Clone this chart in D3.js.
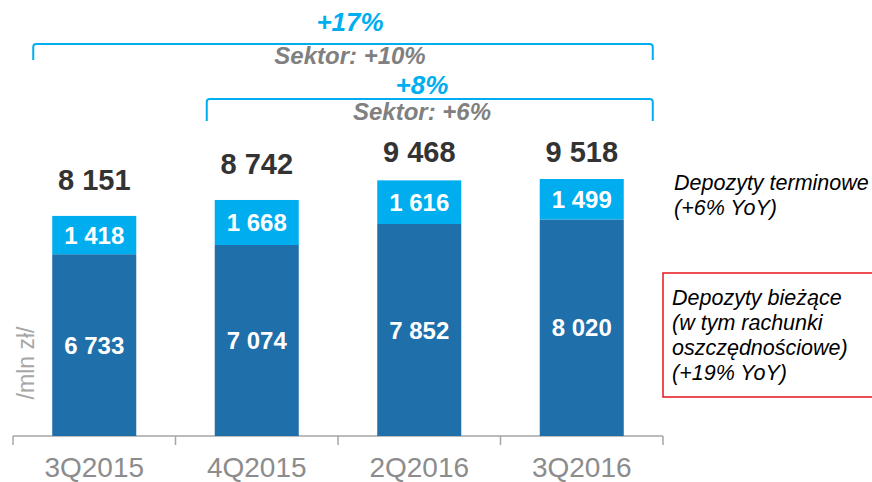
<!DOCTYPE html>
<html>
<head>
<meta charset="UTF-8">
<title>Depozyty</title>
<script src="https://cdn.jsdelivr.net/npm/d3@7"></script>
<style>
  body { margin: 0; background: #fff; }
  text { font-family: Arial, "Liberation Sans", sans-serif; }
</style>
</head>
<body>
<script>
var w = 872;
var h = 482;

// dane
var categories = ["3Q2015", "4Q2015", "2Q2016", "3Q2016"];
var biezace = [6733, 7074, 7852, 8020];
var terminowe = [1418, 1668, 1616, 1499];
var totals = [8151, 8742, 9468, 9518];
var bracketLabels = [
  {from: 0, to: 3, main: "+17%", sub: "Sektor: +10%"},
  {from: 1, to: 3, main: "+8%", sub: "Sektor: +6%"}
];
var legendTerm = ["Depozyty terminowe", "(+6% YoY)"];
var legendBiez = ["Depozyty bieżące", "(w tym rachunki", "oszczędnościowe)", "(+19% YoY)"];

var darkBlue = "#1f6fab";
var lightBlue = "#00aeef";

function fmt(v) {
  return d3.format(",")(v).replace(/,/g, " ");
}

var svg = d3.select("body")
  .append("svg")
  .attr("width", w)
  .attr("height", h);

var x = d3.scaleBand()
  .domain(categories)
  .range([13, 663])
  .paddingInner(0.483)
  .paddingOuter(0.2415);

var y = d3.scaleLinear()
  .domain([0, 10000])
  .range([436, 166]);

var data = categories.map(function(c, i) {
  return {cat: c, b: biezace[i], t: terminowe[i], total: totals[i]};
});

// os
var axis = svg.append("g")
  .attr("transform", "translate(0," + y(0) + ")")
  .call(d3.axisBottom(x).tickSize(0).tickPadding(0).tickFormat(""));
axis.select(".domain").attr("stroke", "#a6a6a6").attr("stroke-width", 1.5)
  .attr("d", "M13,0H663");
axis.selectAll(".tick").remove();

var step = x.step();
d3.range(categories.length + 1).forEach(function(i) {
  var xx = 13 + i * step;
  svg.append("line")
    .attr("x1", xx).attr("x2", xx)
    .attr("y1", y(0)).attr("y2", y(0) + 9)
    .attr("stroke", "#a6a6a6").attr("stroke-width", 1.5);
});

svg.selectAll(".catLabel")
  .data(categories)
  .enter().append("text")
  .attr("x", function(d) { return x(d) + x.bandwidth() / 2; })
  .attr("y", 477)
  .attr("text-anchor", "middle")
  .attr("fill", "#8c8c8c")
  .style("font-size", "28px")
  .text(function(d) { return d; });

// slupki
svg.selectAll(".dark")
  .data(data)
  .enter().append("rect")
  .attr("x", function(d) { return x(d.cat); })
  .attr("width", x.bandwidth())
  .attr("y", function(d) { return y(d.b); })
  .attr("height", function(d) { return y(0) - y(d.b); })
  .attr("fill", darkBlue);

svg.selectAll(".light")
  .data(data)
  .enter().append("rect")
  .attr("x", function(d) { return x(d.cat); })
  .attr("width", x.bandwidth())
  .attr("y", function(d) { return y(d.b + d.t); })
  .attr("height", function(d) { return y(d.b) - y(d.b + d.t); })
  .attr("fill", lightBlue);

svg.selectAll(".bLabel")
  .data(data)
  .enter().append("text")
  .attr("x", function(d) { return x(d.cat) + x.bandwidth() / 2; })
  .attr("y", function(d) { return (y(0) + y(d.b)) / 2; })
  .attr("dy", "0.36em")
  .attr("text-anchor", "middle")
  .attr("fill", "#fff")
  .style("font-size", "24px")
  .style("font-weight", "bold")
  .text(function(d) { return fmt(d.b); });

svg.selectAll(".tLabel")
  .data(data)
  .enter().append("text")
  .attr("x", function(d) { return x(d.cat) + x.bandwidth() / 2; })
  .attr("y", function(d) { return (y(d.b) + y(d.b + d.t)) / 2; })
  .attr("dy", "0.36em")
  .attr("text-anchor", "middle")
  .attr("fill", "#fff")
  .style("font-size", "24px")
  .style("font-weight", "bold")
  .text(function(d) { return fmt(d.t); });

svg.selectAll(".totLabel")
  .data(data)
  .enter().append("text")
  .attr("x", function(d) { return x(d.cat) + x.bandwidth() / 2; })
  .attr("y", function(d) { return Math.max(y(d.total) - 26, 162); })
  .attr("text-anchor", "middle")
  .attr("fill", "#333333")
  .style("font-size", "29px")
  .style("font-weight", "bold")
  .text(function(d) { return fmt(d.total); });

// opis osi
svg.append("text")
  .attr("transform", "translate(34,363) rotate(-90)")
  .attr("text-anchor", "middle")
  .attr("fill", "#a6a6a6")
  .style("font-size", "23px")
  .text("/mln zł/");

// klamry
var bracketGeom = [
  {x1: x(categories[0]) - 19, x2: x(categories[3]) + x.bandwidth() + 29, yTop: 44, yBot: 60, yMain: 31, ySub: 64, cx: 350},
  {x1: x(categories[1]) - 8, x2: x(categories[3]) + x.bandwidth() + 29, yTop: 99, yBot: 121, yMain: 94, ySub: 120, cx: 422}
];

bracketLabels.forEach(function(b, i) {
  var g = bracketGeom[i];
  var r = 3;
  svg.append("path")
    .attr("d", "M" + g.x1 + "," + g.yBot + "V" + (g.yTop + r) +
      "Q" + g.x1 + "," + g.yTop + " " + (g.x1 + r) + "," + g.yTop +
      "H" + (g.x2 - r) +
      "Q" + g.x2 + "," + g.yTop + " " + g.x2 + "," + (g.yTop + r) +
      "V" + g.yBot)
    .attr("fill", "none")
    .attr("stroke", lightBlue)
    .attr("stroke-width", 2);
  svg.append("text")
    .attr("x", g.cx).attr("y", g.yMain)
    .attr("text-anchor", "middle")
    .attr("fill", lightBlue)
    .style("font-size", "26px")
    .style("font-weight", "bold")
    .style("font-style", "italic")
    .text(b.main);
  svg.append("text")
    .attr("x", g.cx).attr("y", g.ySub)
    .attr("text-anchor", "middle")
    .attr("fill", "#808080")
    .style("font-size", "24px")
    .style("font-weight", "bold")
    .style("font-style", "italic")
    .text(b.sub);
});

// legenda
svg.append("g").selectAll("text")
  .data(legendTerm)
  .enter().append("text")
  .attr("x", 674)
  .attr("y", function(d, i) { return 190 + i * 25; })
  .attr("fill", "#000")
  .style("font-size", "21.5px")
  .style("font-style", "italic")
  .text(function(d) { return d; });

svg.append("rect")
  .attr("x", 663).attr("y", 273)
  .attr("width", 240).attr("height", 124)
  .attr("fill", "none")
  .attr("stroke", "#e8141c")
  .attr("stroke-width", 1.5);

svg.append("g").selectAll("text")
  .data(legendBiez)
  .enter().append("text")
  .attr("x", 672)
  .attr("y", function(d, i) { return 305 + i * 25; })
  .attr("fill", "#000")
  .style("font-size", "21.5px")
  .style("font-style", "italic")
  .text(function(d) { return d; });
</script>
</body>
</html>
